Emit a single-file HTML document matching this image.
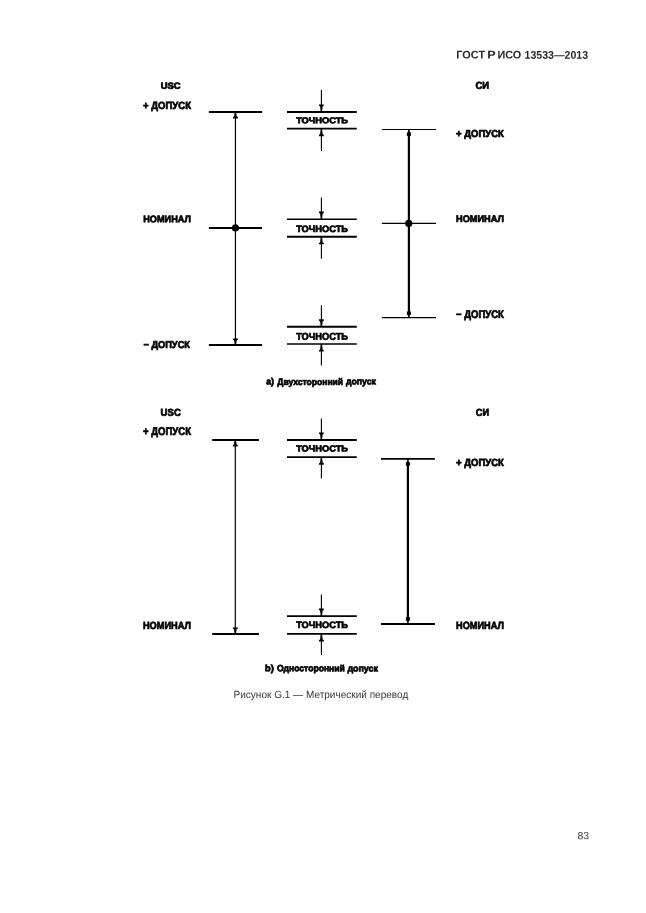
<!DOCTYPE html>
<html lang="ru">
<head>
<meta charset="utf-8">
<title>ГОСТ Р ИСО 13533—2013</title>
<style>
html,body{margin:0;padding:0;background:#fff;}
body{width:646px;height:913px;position:relative;overflow:hidden;font-family:"Liberation Sans",sans-serif;}
svg{position:absolute;left:0;top:0;will-change:transform;}
text{font-family:"Liberation Sans",sans-serif;}
.b{font-weight:bold;font-size:9.5px;fill:#000;stroke:#000;stroke-width:0.7px;}
.hdr{font-weight:bold;font-size:11.2px;fill:#2a2a2a;}
.cap{font-size:10.4px;fill:#383838;}
.ln{stroke:#000;fill:none;}
.ah{fill:#000;stroke:none;}
</style>
</head>
<body>
<svg width="646" height="913" viewBox="0 0 646 913">
<text class="hdr" y="58.6" transform="rotate(0.03 456.3 58.6)"><tspan x="456.3" textLength="28.8" lengthAdjust="spacingAndGlyphs">ГОСТ</tspan> <tspan x="487.3" textLength="8.4" lengthAdjust="spacingAndGlyphs">Р</tspan> <tspan x="497.4" textLength="23.8" lengthAdjust="spacingAndGlyphs">ИСО</tspan> <tspan x="524.5" textLength="63.6" lengthAdjust="spacingAndGlyphs">13533—2013</tspan></text>
<text class="b" x="170.65" y="88.75" textLength="20.0" lengthAdjust="spacingAndGlyphs" text-anchor="middle" style="font-size:8.9px" transform="rotate(0.03 170.65 88.75)">USC</text>
<text class="b" x="482.3" y="88.8" textLength="13.6" lengthAdjust="spacingAndGlyphs" text-anchor="middle" style="font-size:9.9px" transform="rotate(0.03 482.3 88.8)">СИ</text>
<text class="b" x="143.1" y="108.6" textLength="47.9" lengthAdjust="spacingAndGlyphs" style="font-size:10.4px" transform="rotate(0.03 143.1 108.6)">+ ДОПУСК</text>
<text class="b" x="143.2" y="222.3" textLength="47.7" lengthAdjust="spacingAndGlyphs" style="font-size:9.6px" transform="rotate(0.03 143.2 222.3)">НОМИНАЛ</text>
<text class="b" x="143.4" y="348.1" textLength="46.6" lengthAdjust="spacingAndGlyphs" style="font-size:10.0px" transform="rotate(0.03 143.4 348.1)">− ДОПУСК</text>
<text class="b" x="456.0" y="136.95" textLength="47.9" lengthAdjust="spacingAndGlyphs" style="font-size:10.1px" transform="rotate(0.03 456.0 136.95)">+ ДОПУСК</text>
<text class="b" x="456.0" y="221.9" textLength="48.0" lengthAdjust="spacingAndGlyphs" style="font-size:9.6px" transform="rotate(0.03 456.0 221.9)">НОМИНАЛ</text>
<text class="b" x="456.0" y="318.05" textLength="47.9" lengthAdjust="spacingAndGlyphs" style="font-size:11.0px" transform="rotate(0.03 456.0 318.05)">− ДОПУСК</text>
<g class="ln">
<line x1="208.9" y1="111.9" x2="262.1" y2="111.9" stroke-width="2"/>
<line x1="208.9" y1="227.9" x2="262.1" y2="227.9" stroke-width="2"/>
<line x1="208.9" y1="345" x2="262.1" y2="345" stroke-width="2"/>
<line x1="235.45" y1="112" x2="235.45" y2="345" stroke-width="1.2"/>
<line x1="381.9" y1="129.5" x2="436" y2="129.5" stroke-width="1.2"/>
<line x1="381.9" y1="223.4" x2="436" y2="223.4" stroke-width="1.25"/>
<line x1="381.9" y1="317.6" x2="436" y2="317.6" stroke-width="1.25"/>
<line x1="408.9" y1="129.5" x2="408.9" y2="317.6" stroke-width="1.1"/>
<line x1="408.9" y1="133.5" x2="408.9" y2="313" stroke-width="2.2"/>
</g>
<circle cx="235.45" cy="227.9" r="3.6"/>
<circle cx="408.75" cy="223.4" r="3.6"/>
<path class="ah" d="M234.85,111.9 L234.15,116.6 L233.0,117.1 L233.0,118.5 L237.9,118.5 L237.9,117.1 L236.75,116.6 L236.05,111.9 Z"/>
<path class="ah" d="M234.85,345 L234.15,340.3 L233.0,339.8 L233.0,338.4 L237.9,338.4 L237.9,339.8 L236.75,340.3 L236.05,345 Z"/>
<path class="ah" d="M408.3,129.5 L408.2,132.0 L406.9,132.5 L406.9,135.9 L410.9,135.9 L410.9,132.5 L409.6,132.0 L409.5,129.5 Z"/>
<path class="ah" d="M408.3,317.6 L408.2,315.3 L406.9,314.8 L406.9,311.4 L410.9,311.4 L410.9,314.8 L409.6,315.3 L409.5,317.6 Z"/>
<g class="ln">
<line x1="287" y1="112" x2="356.8" y2="112" stroke-width="1.9"/>
<line x1="287" y1="128.6" x2="356.8" y2="128.6" stroke-width="1.9"/>
<line x1="321.4" y1="90" x2="321.4" y2="112" stroke-width="1.1"/>
<line x1="321.4" y1="128.6" x2="321.4" y2="151" stroke-width="1.1"/>
</g>
<path class="ah" d="M320.8,112 L320.1,106.3 L318.95,105.8 L318.95,104.4 L323.85,104.4 L323.85,105.8 L322.7,106.3 L322.0,112 Z"/>
<path class="ah" d="M320.8,128.6 L320.1,134.3 L318.95,134.8 L318.95,136.2 L323.85,136.2 L323.85,134.8 L322.7,134.3 L322.0,128.6 Z"/>
<text class="b" x="296.2" y="123.25" textLength="51.8" lengthAdjust="spacingAndGlyphs" style="font-size:8.5px" transform="rotate(0.03 296.2 123.25)">ТОЧНОСТЬ</text>
<g class="ln">
<line x1="287" y1="219.2" x2="356.8" y2="219.2" stroke-width="1.4"/>
<line x1="287" y1="236.7" x2="356.8" y2="236.7" stroke-width="2.0"/>
<line x1="321.4" y1="197.4" x2="321.4" y2="219.2" stroke-width="1.1"/>
<line x1="321.4" y1="236.7" x2="321.4" y2="258.8" stroke-width="1.1"/>
</g>
<path class="ah" d="M320.8,219.2 L320.1,213.5 L318.95,213.0 L318.95,211.6 L323.85,211.6 L323.85,213.0 L322.7,213.5 L322.0,219.2 Z"/>
<path class="ah" d="M320.8,236.7 L320.1,242.4 L318.95,242.9 L318.95,244.3 L323.85,244.3 L323.85,242.9 L322.7,242.4 L322.0,236.7 Z"/>
<text class="b" x="296.2" y="231.9" textLength="51.8" lengthAdjust="spacingAndGlyphs" style="font-size:9.3px" transform="rotate(0.03 296.2 231.9)">ТОЧНОСТЬ</text>
<g class="ln">
<line x1="287" y1="326.85" x2="356.8" y2="326.85" stroke-width="2.0"/>
<line x1="287" y1="344" x2="356.8" y2="344" stroke-width="1.4"/>
<line x1="321.4" y1="305.3" x2="321.4" y2="326.85" stroke-width="1.1"/>
<line x1="321.4" y1="344" x2="321.4" y2="365.5" stroke-width="1.1"/>
</g>
<path class="ah" d="M320.8,326.85 L320.1,321.15 L318.95,320.65 L318.95,319.25 L323.85,319.25 L323.85,320.65 L322.7,321.15 L322.0,326.85 Z"/>
<path class="ah" d="M320.8,344 L320.1,349.7 L318.95,350.2 L318.95,351.6 L323.85,351.6 L323.85,350.2 L322.7,349.7 L322.0,344 Z"/>
<text class="b" x="296.2" y="339.65" textLength="51.8" lengthAdjust="spacingAndGlyphs" style="font-size:9.8px" transform="rotate(0.03 296.2 339.65)">ТОЧНОСТЬ</text>
<text class="b" y="384.5" style="font-size:9.3px" transform="rotate(0.03 266.2 384.5)"><tspan x="266.2" textLength="7.9" lengthAdjust="spacingAndGlyphs">а)</tspan> <tspan x="277.3" textLength="65.8" lengthAdjust="spacingAndGlyphs">Двухсторонний</tspan> <tspan x="345.9" textLength="30.1" lengthAdjust="spacingAndGlyphs">допуск</tspan></text>
<text class="b" x="170.7" y="415.7" textLength="20.2" lengthAdjust="spacingAndGlyphs" text-anchor="middle" style="font-size:9.9px" transform="rotate(0.03 170.7 415.7)">USC</text>
<text class="b" x="482.5" y="415.8" textLength="13.3" lengthAdjust="spacingAndGlyphs" text-anchor="middle" style="font-size:9.9px" transform="rotate(0.03 482.5 415.8)">СИ</text>
<text class="b" x="143.1" y="434.85" textLength="47.9" lengthAdjust="spacingAndGlyphs" style="font-size:11.2px" transform="rotate(0.03 143.1 434.85)">+ ДОПУСК</text>
<text class="b" x="142.9" y="628.5" textLength="48.1" lengthAdjust="spacingAndGlyphs" style="font-size:10.3px" transform="rotate(0.03 142.9 628.5)">НОМИНАЛ</text>
<text class="b" x="456.0" y="466.45" textLength="47.9" lengthAdjust="spacingAndGlyphs" style="font-size:10.3px" transform="rotate(0.03 456.0 466.45)">+ ДОПУСК</text>
<text class="b" x="456.0" y="628.6" textLength="48.0" lengthAdjust="spacingAndGlyphs" style="font-size:10.5px" transform="rotate(0.03 456.0 628.6)">НОМИНАЛ</text>
<g class="ln">
<line x1="212.2" y1="439.9" x2="258.9" y2="439.9" stroke-width="2"/>
<line x1="212.2" y1="634" x2="258.9" y2="634" stroke-width="2"/>
<line x1="235.3" y1="440" x2="235.3" y2="634" stroke-width="1.2"/>
<line x1="381" y1="458.9" x2="434.9" y2="458.9" stroke-width="1.9"/>
<line x1="381" y1="624" x2="434.9" y2="624" stroke-width="1.9"/>
<line x1="407.9" y1="459" x2="407.9" y2="624" stroke-width="1.1"/>
<line x1="407.9" y1="463.5" x2="407.9" y2="619.5" stroke-width="2.2"/>
</g>
<path class="ah" d="M234.7,439.9 L234.0,444.6 L232.85,445.1 L232.85,446.5 L237.75,446.5 L237.75,445.1 L236.6,444.6 L235.9,439.9 Z"/>
<path class="ah" d="M234.7,634 L234.0,629.3 L232.85,628.8 L232.85,627.4 L237.75,627.4 L237.75,628.8 L236.6,629.3 L235.9,634 Z"/>
<path class="ah" d="M407.3,458.9 L407.2,461.8 L405.9,462.3 L405.9,465.7 L409.9,465.7 L409.9,462.3 L408.6,461.8 L408.5,458.9 Z"/>
<path class="ah" d="M407.3,624 L407.2,621.1 L405.9,620.6 L405.9,617.2 L409.9,617.2 L409.9,620.6 L408.6,621.1 L408.5,624 Z"/>
<g class="ln">
<line x1="287" y1="440.05" x2="356.8" y2="440.05" stroke-width="1.9"/>
<line x1="287" y1="457.15" x2="356.8" y2="457.15" stroke-width="1.9"/>
<line x1="321.4" y1="418.5" x2="321.4" y2="440.05" stroke-width="1.1"/>
<line x1="321.4" y1="457.15" x2="321.4" y2="478.6" stroke-width="1.1"/>
</g>
<path class="ah" d="M320.8,440.05 L320.1,434.35 L318.95,433.85 L318.95,432.45 L323.85,432.45 L323.85,433.85 L322.7,434.35 L322.0,440.05 Z"/>
<path class="ah" d="M320.8,457.15 L320.1,462.85 L318.95,463.35 L318.95,464.75 L323.85,464.75 L323.85,463.35 L322.7,462.85 L322.0,457.15 Z"/>
<text class="b" x="296.2" y="451.4" textLength="51.8" lengthAdjust="spacingAndGlyphs" style="font-size:8.8px" transform="rotate(0.03 296.2 451.4)">ТОЧНОСТЬ</text>
<g class="ln">
<line x1="287" y1="616.1" x2="356.8" y2="616.1" stroke-width="1.9"/>
<line x1="287" y1="633.85" x2="356.8" y2="633.85" stroke-width="1.9"/>
<line x1="321.4" y1="594.4" x2="321.4" y2="616.1" stroke-width="1.1"/>
<line x1="321.4" y1="633.85" x2="321.4" y2="655" stroke-width="1.1"/>
</g>
<path class="ah" d="M320.8,616.1 L320.1,610.4 L318.95,609.9 L318.95,608.5 L323.85,608.5 L323.85,609.9 L322.7,610.4 L322.0,616.1 Z"/>
<path class="ah" d="M320.8,633.85 L320.1,639.55 L318.95,640.05 L318.95,641.45 L323.85,641.45 L323.85,640.05 L322.7,639.55 L322.0,633.85 Z"/>
<text class="b" x="296.2" y="628.1" textLength="51.8" lengthAdjust="spacingAndGlyphs" style="font-size:9.3px" transform="rotate(0.03 296.2 628.1)">ТОЧНОСТЬ</text>
<text class="b" y="671.35" style="font-size:9.1px" transform="rotate(0.03 265.1 671.35)"><tspan x="265.1" textLength="8.8" lengthAdjust="spacingAndGlyphs">b)</tspan> <tspan x="277.0" textLength="67.9" lengthAdjust="spacingAndGlyphs">Односторонний</tspan> <tspan x="347.4" textLength="30.6" lengthAdjust="spacingAndGlyphs">допуск</tspan></text>
<text class="cap" x="233.5" y="697.9" textLength="174.8" lengthAdjust="spacingAndGlyphs" transform="rotate(0.03 233.5 697.9)">Рисунок G.1 — Метрический перевод</text>
<text class="cap" x="577.5" y="839.2" transform="rotate(0.03 577.5 839.2)">83</text>
</svg>
</body>
</html>
